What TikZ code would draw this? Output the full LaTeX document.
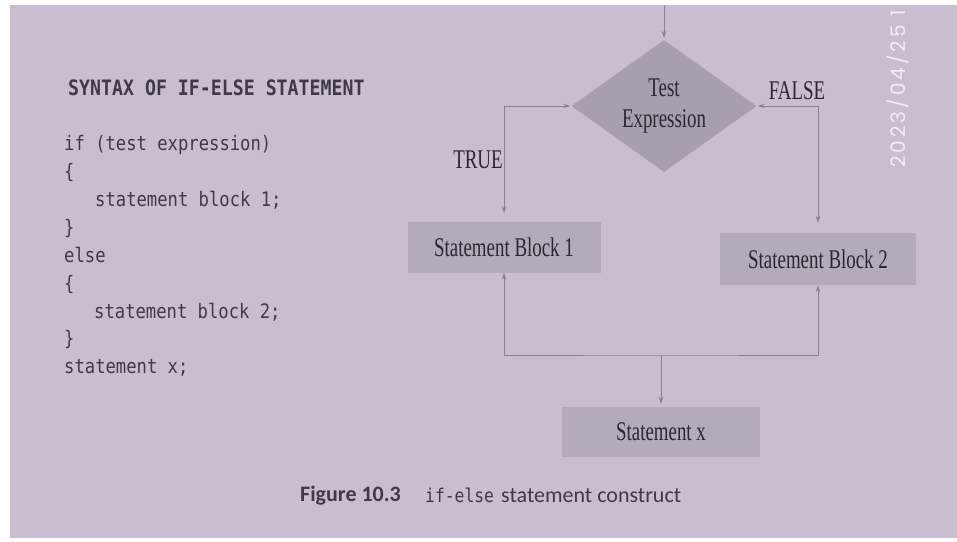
\documentclass[tikz,border=0pt]{standalone}
\usepackage{fontspec}
\usetikzlibrary{shapes.geometric,arrows.meta}
\setmainfont{Liberation Serif}
\newfontfamily\fcfont[FakeStretch=0.7]{Liberation Serif}
\newfontfamily\codefont[FakeStretch=0.86]{DejaVu Sans Mono}
\newfontfamily\capfont{Carlito}
\newfontfamily\wmfont[LetterSpace=15]{Poppins}
\definecolor{paper}{RGB}{201,189,207}
\definecolor{boxgray}{RGB}{180,170,186}
\definecolor{diagray}{RGB}{168,158,174}
\definecolor{ink}{RGB}{45,38,50}
\definecolor{codeink}{RGB}{66,57,72}
\definecolor{linegray}{RGB}{138,128,146}
\tikzset{
  fctext/.style={font=\fcfont\fontsize{27}{31}\selectfont, text=ink},
  stmtbox/.style={fctext, rectangle, fill=boxgray, inner sep=0pt},
  decision/.style={fctext, diamond, fill=diagray, aspect=1.4, inner sep=0pt, minimum width=185pt, minimum height=132pt, align=center},
  conn/.style={draw=linegray, line width=0.8pt, arrows={-}, >={Stealth[length=7pt,width=4.5pt]}},
  codeline/.style={anchor=base west, inner sep=0pt, text=codeink, font=\codefont\fontsize{20}{22}\selectfont},
  capline/.style={anchor=base west, inner sep=0pt, text=codeink},
}
\begin{document}
\begin{tikzpicture}[x=1pt,y=-1pt]
\useasboundingbox (0,0) rectangle (957,541);
\fill[white] (0,0) rectangle (957,541);
\fill[paper] (10,5) rectangle (957,538);

% code on the left
\node[codeline, font=\codefont\bfseries\fontsize{21.2}{23}\selectfont] (head) at (68,95) {SYNTAX OF IF-ELSE STATEMENT};
\node[codeline] (c1) at (64,150) {if (test expression)};
\node[codeline] (c2) at (64,178) {\{};
\node[codeline] (c3) at (95,206) {statement block 1;};
\node[codeline] (c4) at (64,234) {\}};
\node[codeline] (c5) at (64,262) {else};
\node[codeline] (c6) at (64,290) {\{};
\node[codeline] (c7) at (94,318) {statement block 2;};
\node[codeline] (c8) at (64,345) {\}};
\node[codeline] (c9) at (64,373) {statement x;};

% flowchart
\node[decision] (d) at (664,106) {Test\\Expression};
\node[stmtbox, minimum width=193pt, minimum height=51pt] (b1) at (504,247) {Statement Block 1};
\node[stmtbox, minimum width=196pt, minimum height=52pt] (b2) at (818,259) {Statement Block 2};
\node[stmtbox, minimum width=198pt, minimum height=50pt] (sx) at (661,432) {Statement x};
\node[fctext, inner sep=0pt] (t) at (478,160) {TRUE};
\node[fctext, inner sep=0pt] (f) at (797,91) {FALSE};

\coordinate (in) at (664,5);
\coordinate (j) at (661,355);
\draw[conn,->,shorten >=2pt] (in) -- (d.north);
\draw[conn,<->,shorten <=1pt,shorten >=8pt] (d.west) -| (b1.north);
\draw[conn,<->,shorten <=1pt,shorten >=10pt] (d.east) -| (b2.north);
\draw[conn,<->] (b1.south) |- (j) -| (b2.south);
\draw[conn,->,shorten >=3pt] (j) -- (sx.north);

% caption
\node[capline, font=\capfont\bfseries\fontsize{22}{24}\selectfont] (cap1) at (300,501) {Figure 10.3};
\node[capline, font=\codefont\fontsize{19}{20}\selectfont] (cap2) at (425,502) {if-else};
\node[capline, font=\capfont\fontsize{22}{24}\selectfont] (cap3) at (501,502) {statement construct};

% photo timestamp
\begin{scope}
\clip (10,5) rectangle (957,538);
\node[anchor=base west, rotate=90, inner sep=0pt, text=white, opacity=0.75, font=\wmfont\fontsize{20}{21}\selectfont] (wm) at (905,168) {2023/04/25\ 1};
\end{scope}
\end{tikzpicture}
\end{document}
